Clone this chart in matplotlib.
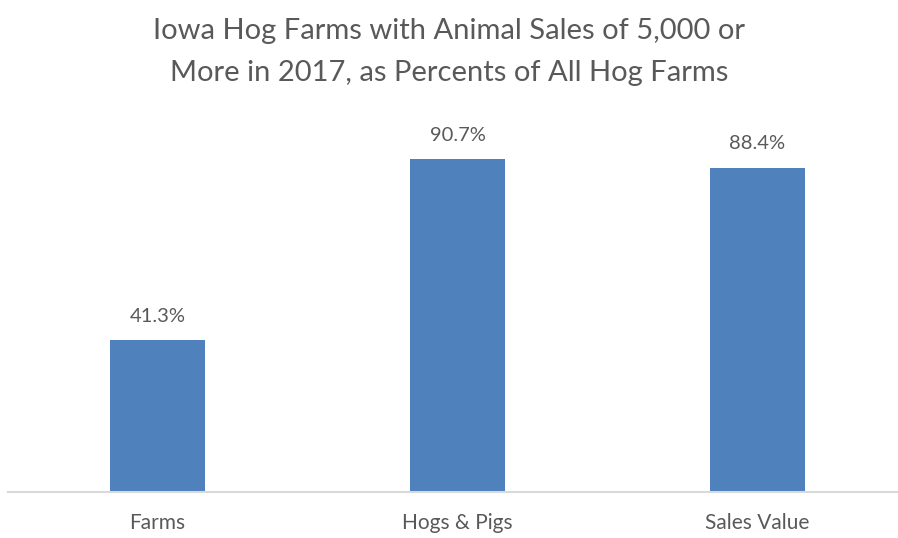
import matplotlib
matplotlib.use("Agg")
import matplotlib.pyplot as plt

categories = ["Farms", "Hogs & Pigs", "Sales Value"]
percents = [41.3, 90.7, 88.4]
value_labels = ["41.3%", "90.7%", "88.4%"]
title = "Iowa Hog Farms with Animal Sales of 5,000 or\nMore in 2017, as Percents of All Hog Farms"

plt.rcParams["font.family"] = ["Lato", "DejaVu Sans"]
text_color = "#595959"
bar_color = "#4F81BD"

fig = plt.figure(figsize=(8.98, 5.38), dpi=100)
W, H = 898, 538
# axes: baseline at y=492 px, 100% at y=125 px, category spacing 300 px
ax = fig.add_axes([7.5 / W, (H - 492) / H, 890.5 / W, (492 - 125) / H])
x = list(range(len(categories)))
ax.bar(x, percents, width=0.317, color=bar_color, zorder=2)
ax.set_xlim(-0.5, -0.5 + 890.5 / 300)
ax.set_ylim(0, 100)

for xi, v, lab in zip(x, percents, value_labels):
    ax.annotate(lab, (xi, v), xytext=(0, 11), textcoords="offset points",
                ha="center", va="bottom", fontsize=14.5, color=text_color)

ax.set_xticks(x)
ax.set_xticklabels(categories, fontsize=15, color=text_color)
ax.tick_params(axis="x", length=0, pad=15)
ax.set_yticks([])
for side in ["top", "right", "left"]:
    ax.spines[side].set_visible(False)
ax.spines["bottom"].set_color("#D9D9D9")
ax.spines["bottom"].set_linewidth(1.5)

fig.text(0.5, 1 - 52 / H, title, ha="center", va="center", fontsize=21,
         color=text_color, linespacing=1.75)

fig.savefig("out.png", dpi=100, facecolor="white")
